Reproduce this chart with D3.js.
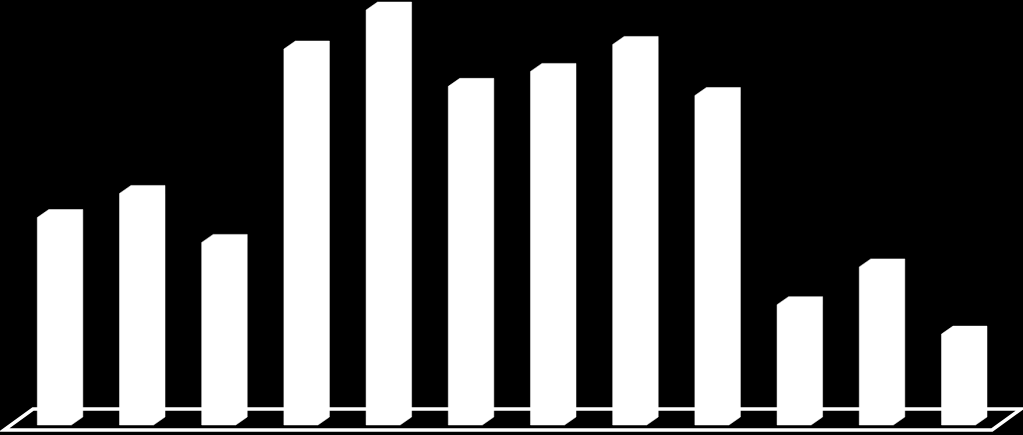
<!DOCTYPE html>
<html>
<head>
<meta charset="utf-8">
<script src="https://cdn.jsdelivr.net/npm/d3@7"></script>
<style>
    html, body { margin: 0; padding: 0; background: #000; }
    svg { display: block; }
</style>
</head>
<body>
<div id="chart"></div>
<script>
    // categories and values (no labels are shown)
    const categories = ['1', '2', '3', '4', '5', '6', '7', '8', '9', '10', '11', '12'];
    const values = [50.0, 55.8, 44.0, 90.6, 100, 81.6, 85.2, 91.7, 79.4, 29.0, 38.1, 21.9];
    const yDomain = [0, 100];

    const width = 1023;
    const height = 435;

    // oblique depth of a bar and of the floor
    const barDepth = {dx: 11.5, dy: 8};
    const floorDepth = {dx: 29, dy: 21};

    const svg = d3.select('#chart')
        .append('svg')
        .attr('width', width)
        .attr('height', height);

    svg.append('rect')
        .attr('width', width)
        .attr('height', height)
        .attr('fill', '#000');

    const x = d3.scaleBand()
        .domain(categories)
        .range([37.3, 975.5])
        .paddingInner(0.586)
        .paddingOuter(0);

    const y = d3.scaleLinear()
        .domain(yDomain)
        .range([425, 10]);

    // floor, drawn as an outlined parallelogram
    const floorFront = y(0) + 5;
    const floorLeft = 4;
    const floorRight = 992;
    const floor = [
        [floorLeft, floorFront],
        [floorRight, floorFront],
        [floorRight + floorDepth.dx, floorFront - floorDepth.dy],
        [floorLeft + floorDepth.dx, floorFront - floorDepth.dy]
    ];
    svg.append('path')
        .attr('d', d3.line()(floor) + 'Z')
        .attr('fill', 'none')
        .attr('stroke', '#fff')
        .attr('stroke-width', 3.5)
        .attr('stroke-linejoin', 'miter');

    const data = categories.map((c, i) => ({cat: c, value: values[i]}));

    const bars = svg.selectAll('.bar')
        .data(data)
        .enter().append('g')
        .attr('class', 'bar');

    // one outline covering front, top and side of the box
    bars.append('path')
        .attr('d', (d) => {
            const x0 = x(d.cat);
            const x1 = x0 + x.bandwidth();
            const y0 = y(0);
            const y1 = y(d.value);
            const {dx, dy} = barDepth;
            return d3.line()([
                [x0, y0], [x0, y1], [x0 + dx, y1 - dy], [x1 + dx, y1 - dy],
                [x1 + dx, y0 - dy], [x1, y0]
            ]) + 'Z';
        })
        .attr('fill', '#fff')
        .attr('stroke', '#fff')
        .attr('stroke-width', 0.5);
</script>
</body>
</html>
